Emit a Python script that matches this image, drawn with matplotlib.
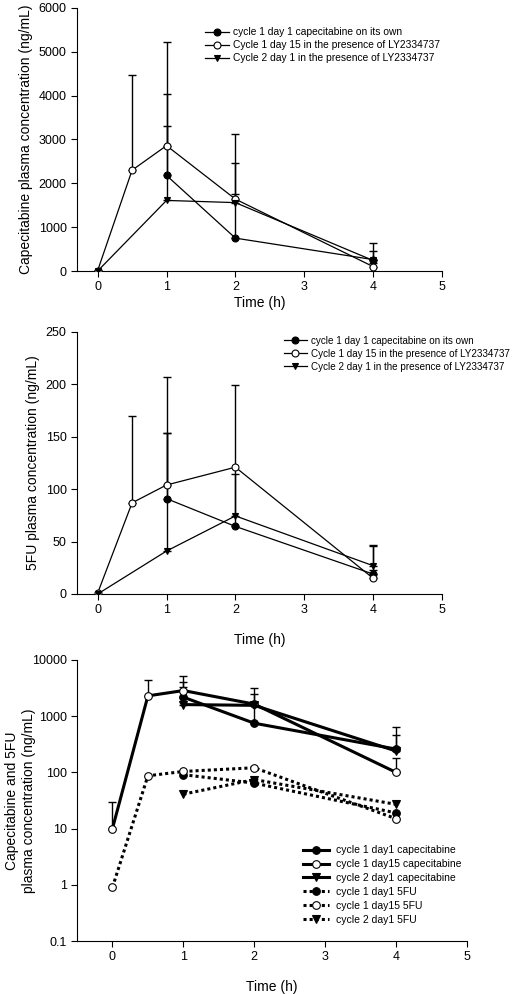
import numpy as np
import matplotlib
matplotlib.use("Agg")
import matplotlib.pyplot as plt
from matplotlib.ticker import FixedLocator, FuncFormatter, NullLocator

plt.rcParams['font.family'] = ['Liberation Sans', 'DejaVu Sans']

# time points (h)
t_all = [0, 0.5, 1, 2, 4]
t_c1d1 = [1, 2, 4]
t_c2d1 = [0, 1, 2, 4]

# capecitabine (ng/mL), mean and upper error
cap_c1d1 = [2180, 750, 260]
cap_c1d1_sd = [1860, 1710, 380]
cap_c1d15 = [10, 2300, 2860, 1640, 100]
cap_c1d15_sd = [20, 2170, 2370, 1490, 80]
cap_c2d1 = [0, 1610, 1560, 240]
cap_c2d1_sd = [0, 1690, 200, 220]

# 5FU (ng/mL)
fu_c1d1 = [91, 64.5, 19]
fu_c1d1_sd = [63, 135, 27]
fu_c1d15 = [0.9, 87, 104, 121, 15]
fu_c1d15_sd = [0, 83, 103, 0, 8]
fu_c2d1 = [0, 41, 74.5, 27]
fu_c2d1_sd = [0, 113, 40, 20]

labels_top = ["cycle 1 day 1 capecitabine on its own",
              "Cycle 1 day 15 in the presence of LY2334737",
              "Cycle 2 day 1 in the presence of LY2334737"]
labels_log = ["cycle 1 day1 capecitabine", "cycle 1 day15 capecitabine",
              "cycle 2 day1 capecitabine", "cycle 1 day1 5FU",
              "cycle 1 day15 5FU", "cycle 2 day1 5FU"]

W, H = 517, 994
fig = plt.figure(figsize=(W / 100, H / 100), dpi=100)


def ax_at(l, t, r, b):
    return fig.add_axes([l / W, 1 - b / H, (r - l) / W, (b - t) / H])


def style(ax, xpad):
    for s in ['top', 'right']:
        ax.spines[s].set_visible(False)
    ax.tick_params(direction='out', length=4, width=0.8, labelsize=9)
    ax.set_xlabel("Time (h)", fontsize=10, labelpad=xpad)


def upper_err(ax, x, y, sd, lw=1.0):
    x, y, sd = np.array(x), np.array(y, float), np.array(sd, float)
    m = sd > 0
    ax.errorbar(x[m], y[m], yerr=[np.zeros(m.sum()), sd[m]], fmt='none',
                ecolor='black', elinewidth=lw, capsize=3, capthick=lw, zorder=1)


series_styles = [dict(marker='o', mfc='black'),
                 dict(marker='o', mfc='white'),
                 dict(marker='v', mfc='black')]


def linear_panel(top, bot, c1, c15, c2, sds, ylim, yticks, ylabel, leg_x, leg_y, xpad, fs):
    ax = ax_at(77, top, 442, bot)
    data = [(t_c1d1, c1), (t_all, c15), (t_c2d1, c2)]
    for (x, y), sd in zip(data, sds):
        upper_err(ax, x, y, sd)
    for (x, y), st, lab in zip(data, series_styles, labels_top):
        ax.plot(x, y, color='black', lw=0.9, ms=5, mec='black', mew=0.8,
                label=lab, zorder=3, **st)
    ax.set_xlim(-0.3, 5)
    ax.set_ylim(*ylim)
    ax.set_xticks([0, 1, 2, 3, 4, 5])
    ax.set_yticks(yticks)
    ax.set_ylabel(ylabel, fontsize=10, labelpad=4)
    style(ax, xpad)
    ax.legend(loc='upper left', bbox_to_anchor=(leg_x / W, 1 - leg_y / H),
              bbox_transform=fig.transFigure, frameon=False, fontsize=fs,
              borderpad=0, handlelength=2.3, handletextpad=0.45,
              labelspacing=0.3)
    return ax


linear_panel(8, 271, cap_c1d1, cap_c1d15, cap_c2d1,
             [cap_c1d1_sd, cap_c1d15_sd, cap_c2d1_sd],
             (0, 6000), range(0, 6001, 1000),
             "Capecitabine plasma concentration (ng/mL)", 200, 22, 2, 7.4)

linear_panel(332, 594, fu_c1d1, fu_c1d15, fu_c2d1,
             [fu_c1d1_sd, fu_c1d15_sd, fu_c2d1_sd],
             (0, 250), range(0, 251, 50),
             "5FU plasma concentration (ng/mL)", 279, 331, 12, 7.1)

# log panel
ax = ax_at(77, 660, 467, 941)
cap_data = [(t_c1d1, cap_c1d1), (t_all, cap_c1d15), (t_c2d1[1:], cap_c2d1[1:])]
for (x, y), sd in zip(cap_data, [cap_c1d1_sd, cap_c1d15_sd, cap_c2d1_sd[1:]]):
    upper_err(ax, x, y, sd, lw=1.0)
for (x, y), st, lab in zip(cap_data, series_styles, labels_log[:3]):
    ax.plot(x, y, color='black', lw=2.2, ms=5.5, mec='black', mew=0.8,
            label=lab, zorder=3, **st)
fu_data = [(t_c1d1, fu_c1d1), (t_all, fu_c1d15), (t_c2d1[1:], fu_c2d1[1:])]
for (x, y), st, lab in zip(fu_data, series_styles, labels_log[3:]):
    ax.plot(x, y, color='black', lw=2.2, ls=(0, (1, 1)), ms=5.5, mec='black',
            mew=0.8, label=lab, zorder=3, **st)
ax.set_yscale('log')
ax.set_xlim(-0.5, 5)
ax.set_ylim(0.1, 10000)
ax.set_xticks([0, 1, 2, 3, 4, 5])
ax.yaxis.set_major_locator(FixedLocator([0.1, 1, 10, 100, 1000, 10000]))
ax.yaxis.set_minor_locator(NullLocator())
ax.yaxis.set_major_formatter(FuncFormatter(lambda v, p: '%g' % v))
ax.set_ylabel("Capecitabine and 5FU\nplasma concentration (ng/mL)",
              fontsize=10, linespacing=1.3)
ax.yaxis.set_label_coords(-0.105, 0.5)
style(ax, 12)
ax.legend(loc='upper left', bbox_to_anchor=(298 / W, 1 - 840 / H),
          bbox_transform=fig.transFigure, frameon=False, fontsize=7.5,
          borderpad=0, handlelength=2.5, handletextpad=0.6,
          labelspacing=0.38)

fig.savefig("out.png", dpi=100)
